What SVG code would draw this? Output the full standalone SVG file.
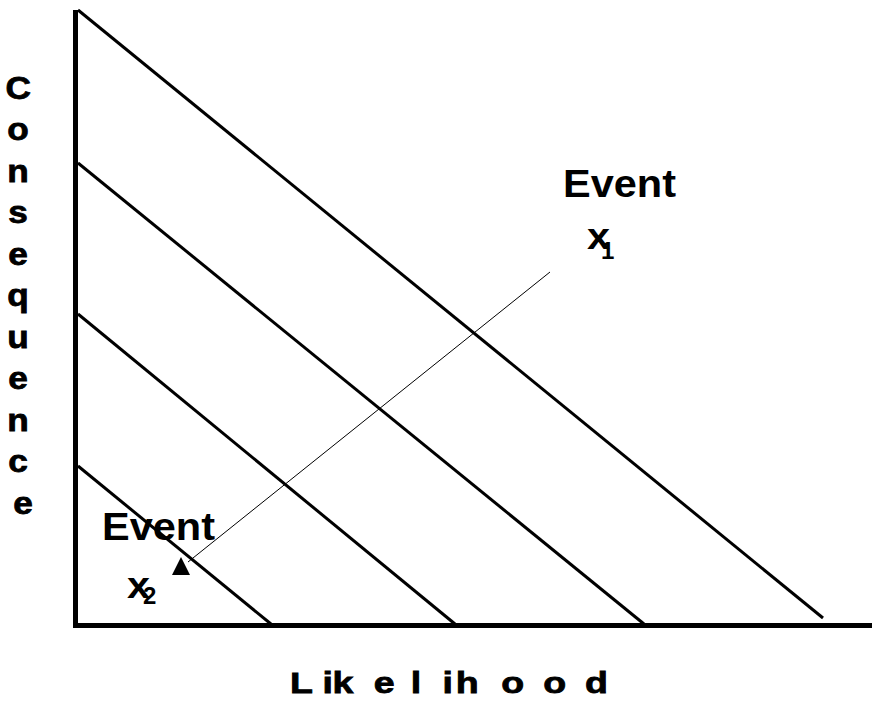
<svg xmlns="http://www.w3.org/2000/svg" width="872" height="706" viewBox="0 0 872 706">
<style>
.lbl{font-family:"Liberation Sans",Arial,sans-serif;font-weight:bold;fill:#000}
.heavy{stroke:#000;stroke-width:0.8}
.risk{stroke:#000;stroke-width:3;fill:none}
.axis{stroke:#000;stroke-width:5;fill:none}
</style>
<rect width="872" height="706" fill="#fff"/>
<g id="axes">
<line class="axis" x1="75.5" y1="10" x2="75.5" y2="628"/>
<line class="axis" x1="73" y1="625.5" x2="872" y2="625.5"/>
</g>
<g id="risk-lines">
<line class="risk" x1="78" y1="10" x2="823" y2="618"/>
<line class="risk" x1="78" y1="163" x2="644" y2="624"/>
<line class="risk" x1="78" y1="314" x2="455" y2="624"/>
<line class="risk" x1="78" y1="466" x2="271" y2="624"/>
</g>
<g id="connectors">
<line x1="550" y1="272" x2="188" y2="562" stroke="#000" stroke-width="1"/>
<polygon points="181,557 172,575 190,575" fill="#000"/>
</g>
<g id="event1">
<text class="lbl" x="563" y="197" font-size="38" textLength="113" lengthAdjust="spacingAndGlyphs">Event</text>
<text class="lbl" x="587" y="249" font-size="36" textLength="23" lengthAdjust="spacingAndGlyphs">x</text>
<text class="lbl" x="601" y="259" font-size="24">1</text>
</g>
<g id="event2">
<text class="lbl" x="102" y="540" font-size="38" textLength="113" lengthAdjust="spacingAndGlyphs">Event</text>
<text class="lbl" x="127" y="598" font-size="36" textLength="23" lengthAdjust="spacingAndGlyphs">x</text>
<text class="lbl" x="143" y="604" font-size="24">2</text>
</g>
<g id="y-label">
<text class="lbl heavy" font-size="32" text-anchor="middle" transform="translate(23,0) scale(1.1,1)">
<tspan x="0" y="99">C</tspan>
<tspan x="0" y="140">o</tspan>
<tspan x="0" y="182">n</tspan>
<tspan x="0" y="223">s</tspan>
<tspan x="0" y="265">e</tspan>
<tspan x="0" y="306">q</tspan>
<tspan x="0" y="348">u</tspan>
<tspan x="0" y="389">e</tspan>
<tspan x="0" y="431">n</tspan>
<tspan x="0" y="472">c</tspan>
<tspan x="0" y="514">e</tspan>
</text>
</g>
<g id="x-label">
<text class="lbl heavy" font-size="30" y="693" transform="scale(1.25,1)" x="232 258 266 299 328.6 354 364.6 401 434.6 468">Likelihood</text>
</g>
</svg>
